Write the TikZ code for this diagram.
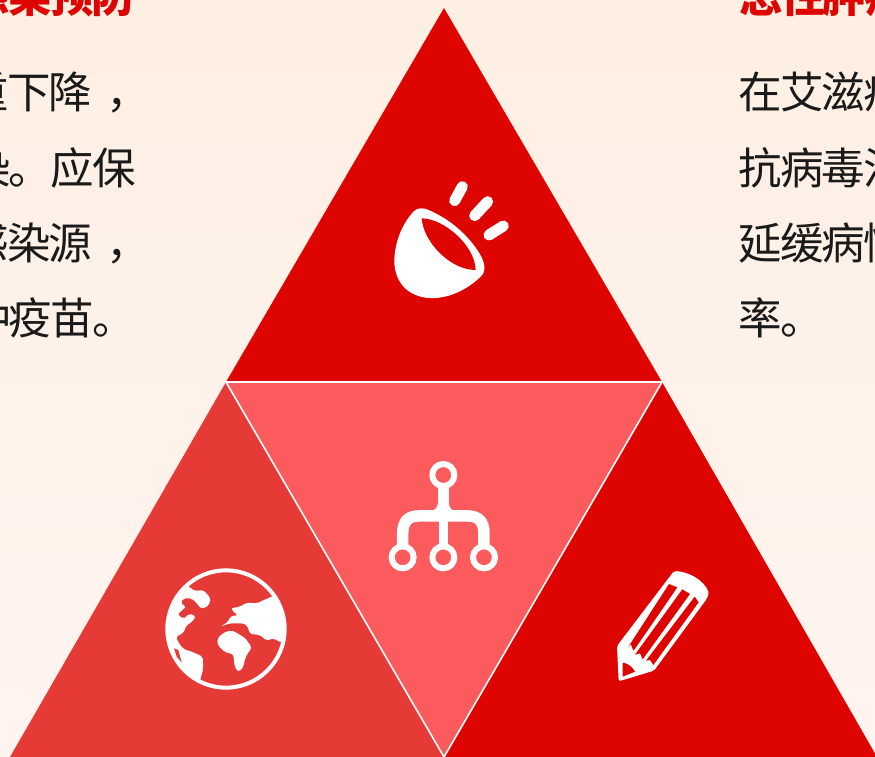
\documentclass[tikz,border=0pt]{standalone}
\usepackage{fontspec}
\newfontfamily\cjk[LetterSpace=-4]{Noto Sans CJK SC}
\definecolor{deepred}{HTML}{DE0400}
\definecolor{midred}{HTML}{E63A36}
\definecolor{softred}{HTML}{FB5B5C}
\definecolor{inktext}{HTML}{1A1A1A}
\definecolor{bgtop}{HTML}{FEEFE3}
\definecolor{bgbot}{HTML}{FFF4F0}
\tikzset{
  tri/.style={draw=white,line width=1.6pt,line join=miter},
  bodyl/.style={inner sep=0pt,anchor=base east,text=inktext,font=\cjk\fontsize{43.5}{50}\selectfont},
  bodyr/.style={inner sep=0pt,anchor=base west,text=inktext,font=\cjk\fontsize{43.5}{50}\selectfont},
  titlel/.style={inner sep=0pt,anchor=base east,text=deepred,font=\cjk\bfseries\fontsize{43.5}{50}\selectfont},
  titler/.style={inner sep=0pt,anchor=base west,text=deepred,font=\cjk\bfseries\fontsize{43.5}{50}\selectfont},
  icon/.style={fill=white,draw=none},
  iconline/.style={draw=white,line cap=round}
}
\begin{document}
\begin{tikzpicture}[x=1pt,y=-1pt]
\useasboundingbox (0,0) rectangle (875,757);
\clip (0,0) rectangle (875,757);
\shade[top color=bgtop,bottom color=bgbot] (0,0) rectangle (875,757);
% text
\node[titlel] (tl) at (135.5,13) {感染预防};
\node[titler] (tr) at (739,13) {恶性肿瘤};
\node[bodyl] (l1) at (136,109) {严重下降\kern14pt ，\kern-14pt};
\node[bodyl] (l2) at (136,184) {感染。应保};
\node[bodyl] (l3) at (136,259) {感染源\kern14pt ，\kern-14pt};
\node[bodyl] (l4) at (136,334) {接种疫苗。};
\node[bodyr] (r1) at (738,109) {在艾滋病};
\node[bodyr] (r2) at (738,184) {抗病毒治};
\node[bodyr] (r3) at (738,259) {延缓病情};
\node[bodyr] (r4) at (738,334) {率。};
% triangles
\fill[deepred] (444,8) -- (662,382) -- (226,382) -- cycle;
\fill[midred] (226,382) -- (444,757) -- (10,757) -- cycle;
\fill[deepred] (662,382) -- (877,757) -- (444,757) -- cycle;
\draw[tri,fill=softred] (226,382) -- (662,382) -- (444,757) -- cycle;
% megaphone icon
\begin{scope}[shift={(380,170)},scale=0.3333]
\fill[icon] (100,125) .. controls (112,112) and (130,112) .. (150,122)
  .. controls (215,150) and (275,205) .. (305,262)
  .. controls (318,290) and (316,310) .. (300,322)
  .. controls (265,355) and (215,382) .. (165,384)
  .. controls (95,388) and (42,345) .. (43,270)
  .. controls (45,215) and (65,165) .. (100,125) -- cycle;
\fill[deepred] (125,145) .. controls (190,145) and (285,225) .. (287,300)
  .. controls (210,300) and (130,215) .. (125,145) -- cycle;
\draw[iconline,line width=11pt] (247,50) -- (224,92);
\draw[iconline,line width=11pt] (323,95) -- (284,137);
\draw[iconline,line width=11pt] (370,168) -- (327,195);
\end{scope}
% network icon
\begin{scope}[shift={(380,450)},scale=0.3333]
\draw[draw=white,line width=6pt] (190,75) circle (33);
\draw[draw=white,line width=6pt] (68,322) circle (33);
\draw[draw=white,line width=6pt] (190,322) circle (33);
\draw[draw=white,line width=6pt] (312,322) circle (33);
\draw[draw=white,line width=11pt] (190,108) -- (190,198);
\draw[draw=white,line width=9.5pt] (190,198) -- (190,292);
\draw[draw=white,line width=11.5pt] (68,292) -- (68,250) .. controls (68,215) and (85,198) .. (115,198) -- (265,198) .. controls (295,198) and (312,215) .. (312,250) -- (312,292);
\fill[icon] (173,160) .. controls (173,176) and (163,182) .. (145,184) -- (235,184) .. controls (217,182) and (207,176) .. (207,160) -- cycle;
\end{scope}
% globe icon
\begin{scope}[shift={(150,555)},scale=0.3333]
\draw[draw=white,line width=4pt] (228,222) circle (176);
\begin{scope}
\clip (228,222) circle (176);
\fill[icon,rounded corners=2pt] (112,92) -- (135,108) -- (160,105) -- (182,130) -- (176,152) -- (155,162) -- (140,145) -- (125,130) -- (100,130) -- (92,145) -- (108,155) -- (83,178) -- (100,192) -- (120,175) -- (137,185) -- (125,202) -- (110,210) -- (100,234) -- (78,245) -- (85,262) -- (100,282) -- (130,292) -- (158,305) -- (160,340) -- (150,378) -- (150,420) -- (20,420) -- (20,60) -- (112,60) -- cycle;
\fill[icon,rounded corners=2pt] (365,125) -- (320,145) -- (290,143) -- (270,155) -- (243,160) -- (255,175) -- (264,180) -- (240,185) -- (235,200) -- (213,214) -- (240,205) -- (280,205) -- (292,212) -- (300,237) -- (330,240) -- (350,257) -- (370,250) -- (392,262) -- (430,262) -- (430,100) -- cycle;
\end{scope}
\fill[midred] (72,280) -- (85,285) -- (95,322) -- (80,305) -- cycle;
\fill[icon,rounded corners=3pt] (202,250) -- (225,230) -- (250,227) -- (270,240) -- (285,248) -- (306,278) -- (292,296) -- (285,312) -- (280,337) -- (265,352) -- (254,335) -- (250,297) -- (225,292) -- (203,270) -- cycle;
\end{scope}
% pencil icon
\begin{scope}[shift={(600,560)},scale=0.3333]
\fill[icon,rounded corners=2pt] (222,33) .. controls (265,35) and (312,60) .. (327,100) -- (320,117) -- (162,332) -- (56,364) -- (51,258) -- cycle;
\fill[deepred] (207,72) -- (232,82) -- (108,262) -- (100,272) -- (92,252) -- (84,262) -- cycle;
\fill[deepred] (247,88) -- (270,102) -- (128,298) -- (120,280) -- (105,284) -- cycle;
\fill[deepred] (284,110) -- (296,127) -- (160,315) -- (150,300) -- (138,302) -- cycle;
\fill[deepred] (68,308) .. controls (85,310) and (98,322) .. (105,335) -- (68,350) -- cycle;
\end{scope}
\end{tikzpicture}
\end{document}
